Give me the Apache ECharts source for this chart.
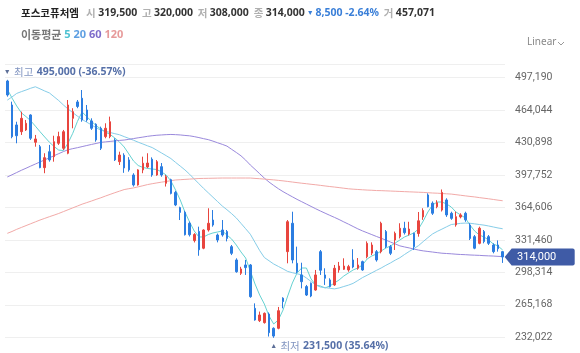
<!DOCTYPE html>
<html>
<head>
<meta charset="utf-8">
<script src="https://cdn.jsdelivr.net/npm/echarts/dist/echarts.min.js"></script>
<style>
html, body { margin: 0; padding: 0; background: #fff; }
#chart { width: 580px; height: 353px; }
</style>
</head>
<body>
<div id="chart"></div>
<script>
// daily prices, oldest first
var opens = [493800,469300,448900,442000,443800,459100,431200,426700,405300,421600,
  416500,430200,425100,420000,455700,472400,476200,464200,453000,449600,
  445500,437000,437000,433600,411400,418000,413200,397800,387600,403000,
  406000,413900,397800,406300,389300,393000,380000,364500,359600,348500,
  330800,340200,323000,341600,351800,336500,341600,340000,324600,311000,
  297400,305900,305900,261600,249000,247000,255800,241200,241200,272000,
  319500,348500,307600,295700,283800,287200,280300,319500,295700,290600,
  285500,300800,301500,300800,311000,302500,309300,314400,318000,319500,
  319500,340000,324600,331400,334800,343400,337500,338200,338000,355000,
  377400,369000,365400,362000,372300,358700,346800,355000,358700,346700,
  334800,328000,340000,334800,326300,326300,319500];
var highs = [495000,472700,452200,462500,454000,459800,438700,428500,420000,428500,
  437900,442000,443800,474400,466000,474400,484600,469300,455700,450600,
  447200,450600,457400,435300,421600,420000,416000,399600,403700,416500,
  420000,415800,413000,410000,397800,394000,381500,365400,361200,350200,
  338400,345000,342300,363800,362000,338000,351800,341600,326300,312700,
  304000,311000,306900,266700,258300,257400,257400,242200,263000,272900,
  351800,360300,324600,308200,285500,288000,300800,321200,302500,292300,
  305900,309000,312700,306000,322000,313000,310300,330000,329000,321200,
  350100,341600,326300,340000,348500,350000,350000,338900,360000,363800,
  379000,370800,372000,383000,374000,360300,360300,358700,360300,348500,
  336500,345000,341600,336500,328000,331000,320000];
var lows = [477800,435300,430200,438700,442800,433600,426700,404700,399600,411400,
  411400,428500,423300,419000,445500,466000,452200,452200,443800,431800,
  423300,435300,435300,412100,408000,400000,401200,386000,386900,399600,
  404700,396000,397000,396000,386000,378000,366000,351800,336000,335000,
  328900,315300,322000,340000,345000,329000,334800,330000,316000,298000,
  295700,295700,272400,249000,247600,246000,232800,231500,240200,261600,
  307600,307600,297400,282000,274200,273000,279600,295700,285500,283000,
  284500,298000,300800,299000,302500,301000,300000,312700,316000,309300,
  317800,323000,316000,321200,333000,337000,336000,321200,334800,352000,
  364800,357000,363800,360500,355000,352000,345000,353500,350000,331400,
  322000,327000,328000,326300,317800,319500,308000];
var closes = [479500,436900,437900,455700,450600,435300,434600,405300,415500,413200,
  431800,437000,442000,469300,462500,467800,454000,454000,445500,433600,
  425100,445500,452200,413200,418200,405000,403000,387600,403000,409800,
  410000,397800,411400,397800,396100,379000,367200,359600,336800,336800,
  337000,321400,341600,348500,346700,331400,336500,333000,317800,299000,
  301800,303200,273500,249700,254800,256500,236700,233300,259200,268500,
  350100,311000,299000,288800,275200,274200,295700,300500,292300,283800,
  302500,304800,304800,304200,303800,305900,300800,328000,326300,311000,
  348500,324600,317800,338200,343400,338900,342600,324600,351000,361500,
  365400,358700,369500,380000,357000,353500,355200,357000,352000,333000,
  323000,343400,329800,328000,319500,322500,314000];

// moving averages
var ma5 = [485400,476400,468300,461300,457400,453200,447700,442000,436600,431300,
  426900,423200,422800,430500,440400,452500,462200,457400,452700,448200,
  444800,441700,439200,435600,431500,426400,419300,412100,407500,405500,
  404500,403900,403400,400900,397800,391700,382500,372300,360000,349800,
  340600,334500,334500,337000,338600,339600,340600,336500,332400,326300,
  319200,313000,299700,286500,275200,266000,253800,245600,249700,259900,
  274200,287500,297700,302800,302800,291600,285400,284400,282400,284400,
  287500,290600,294600,297700,300800,302800,305900,312000,315100,317100,
  320200,323200,325300,328300,331400,334500,336500,338600,342700,350800,
  360000,367200,370200,370200,368200,365100,360000,357000,353900,346700,
  340600,336500,334500,331400,327300,325300,321200];
var ma20 = [474300,477500,481100,482900,484600,486400,487900,485800,483600,481600,
  477700,473800,469300,465200,461500,457900,454500,451700,449000,446100,
  443600,442500,441200,440000,438900,437000,435200,433300,431300,429500,
  427600,425800,423100,420300,417500,414600,410700,406900,403000,398600,
  393700,388900,384100,379600,375100,370600,366100,362300,358300,353900,
  348400,342900,337300,329000,320600,313500,310200,306900,304400,301900,
  299300,298000,296900,295800,292600,289000,285500,283400,282800,282100,
  281500,282400,283900,285300,287100,290000,293000,295400,297900,300400,
  302800,305500,308000,310800,313300,316600,319700,322600,325700,329800,
  333800,337600,340200,342500,344900,347200,347800,348400,348700,348500,
  347900,347200,346600,345700,344700,343700,342900];
var ma60 = [395800,398000,400300,402600,404700,406900,409000,411100,413300,415300,
  417500,419600,421700,423600,424700,425700,426800,427900,429000,430000,
  431100,431600,432100,432600,433100,433500,434200,435000,435800,436500,
  437300,437900,438400,438700,439000,439200,439000,438700,438200,437800,
  437000,436000,434900,433900,432400,430700,429100,427300,424000,420800,
  417400,413000,408000,403600,399100,394600,390600,387100,383800,380800,
  378100,375500,372900,370500,368100,365700,363300,361000,358800,356600,
  354500,352300,349900,347600,345200,342800,340700,338800,336900,335000,
  333200,331300,329300,327400,325400,324300,323300,322200,321100,320300,
  319700,319100,318500,317900,317600,317300,316900,316600,316400,316100,
  315900,315700,315400,315200,315000,314700,314500];
var ma120 = [338200,340100,342300,344200,346100,348000,349900,351800,353500,355200,
  356800,358500,360400,362300,364200,366100,368000,369600,371200,372900,
  374500,376300,378000,379700,381300,382900,383800,384600,385700,386800,
  388000,388900,389700,390500,391200,392000,392700,393000,393300,393600,
  393900,394200,394300,394400,394500,394600,394700,394700,394700,394700,
  394700,394700,394700,394300,394000,393600,393200,392800,392300,391800,
  391200,390600,390000,389400,388900,388300,387800,387200,386600,386000,
  385500,384900,384300,383700,383300,383000,382700,382400,382200,381900,
  381800,381600,381400,381200,381000,380800,380600,380400,380200,380000,
  379700,379400,379200,378900,378600,378300,377700,377100,376500,375900,
  375400,374700,374100,373500,372800,372100,371500];

var stockName = '포스코퓨처엠';
var volume = 457071;
var maNames = ['5', '20', '60', '120'];
var maColors = ['#66d2d2', '#86cde8', '#9a89dc', '#f2aaa8'];
var maLegendColors = ['#4fc2d2', '#5e9fe2', '#7e6ccb', '#e79a9a'];
var upColor = '#e8453e';
var downColor = '#2b7de1';

function fmt(v) {
    return String(v).replace(/\B(?=(\d{3})+(?!\d))/g, ',');
}

var n = closes.length;
var last = n - 1;
var change = closes[last] - closes[last - 1];
var pct = change / closes[last - 1] * 100;

var days = [];
var candles = [];
var hiIdx = 0, loIdx = 0;
for (var i = 0; i < n; i++) {
    days.push(i + 1);
    candles.push([opens[i], closes[i], lows[i], highs[i]]);
    if (highs[i] > highs[hiIdx]) hiIdx = i;
    if (lows[i] < lows[loIdx]) loIdx = i;
}
var hiPct = ((closes[last] - highs[hiIdx]) / highs[hiIdx] * 100).toFixed(2);
var loPct = ((closes[last] - lows[loIdx]) / lows[loIdx] * 100).toFixed(2);

var interval = 33146;
var markRich = {
    t: { fontSize: 7, color: '#5d6f98' },
    k: { fontSize: 10.5, color: '#8094c0', fontFamily: 'Noto Sans CJK KR' },
    v: { fontSize: 10.5, color: '#5670a8', fontWeight: 'bold', fontFamily: 'Noto Sans' }
};

var line1 = '{n|' + stockName + '}{g|   시 }{v|' + fmt(opens[last]) + '}{g|  고 }{v|' + fmt(highs[last]) +
    '}{g|  저 }{v|' + fmt(lows[last]) + '}{g|  종 }{v|' + fmt(closes[last]) + '}{t| ▼ }{b|' +
    fmt(Math.abs(change)) + ' ' + pct.toFixed(2) + '%}{g|  거 }{v|' + fmt(volume) + '}';
var line2 = '{g|이동평균}';
for (var m = 0; m < maNames.length; m++) {
    line2 += '{m' + m + '| ' + maNames[m] + '}';
}
var legendRich = { g: { fontSize: 11, color: '#777', fontFamily: 'Noto Sans CJK KR' } };
for (var m = 0; m < maNames.length; m++) {
    legendRich['m' + m] = { fontSize: 11, color: maLegendColors[m], fontFamily: 'Noto Sans' };
}

var series = [];
var maData = [ma5, ma20, ma60, ma120];
for (var m = 0; m < maData.length; m++) {
    series.push({
        name: 'MA' + maNames[m],
        type: 'line',
        data: maData[m],
        symbol: 'none',
        silent: true,
        z: 1,
        lineStyle: { width: 1, color: maColors[m] },
        itemStyle: { color: maColors[m] }
    });
}
series.push({
    type: 'candlestick',
    data: candles,
    barWidth: 2,
    z: 3,
    itemStyle: {
        color: upColor,
        color0: downColor,
        borderColor: upColor,
        borderColor0: downColor,
        borderWidth: 1
    },
    markPoint: {
        symbol: 'circle',
        symbolSize: 1,
        animation: false,
        itemStyle: { color: 'rgba(0,0,0,0)' },
        data: [
            {
                coord: [hiIdx, highs[hiIdx]],
                label: {
                    show: true,
                    position: [-3, -13],
                    formatter: '{t|▼} {k|최고} {v|' + fmt(highs[hiIdx]) + ' (' + hiPct + '%)}',
                    rich: markRich
                }
            },
            {
                coord: [loIdx, lows[loIdx]],
                label: {
                    show: true,
                    position: [-3, 3],
                    formatter: '{t|▲} {k|최저} {v|' + fmt(lows[loIdx]) + ' (' + loPct + '%)}',
                    rich: markRich
                }
            },
            {
                coord: [last, closes[last]],
                symbol: 'path://M0,8.5 L7,0 L68,0 Q70,0 70,2 L70,15 Q70,17 68,17 L7,17 Z',
                symbolSize: [70, 17],
                symbolOffset: [37, 0],
                itemStyle: { color: '#3f5ba6' },
                label: {
                    show: true,
                    position: 'inside',
                    offset: [-3, 0],
                    formatter: fmt(closes[last]),
                    color: '#fff',
                    fontSize: 11,
                    fontFamily: 'Roboto'
                }
            }
        ]
    }
});

var option = {
    animation: false,
    backgroundColor: '#fff',
    title: [
        {
            left: 16, top: 3,
            text: line1,
            textStyle: {
                rich: {
                    n: { fontSize: 10.5, fontWeight: 'bold', color: '#222', fontFamily: 'Noto Sans CJK KR' },
                    g: { fontSize: 10.5, color: '#b0b0b0', fontFamily: 'Noto Sans CJK KR' },
                    v: { fontSize: 10.5, fontWeight: 'bold', color: '#333', fontFamily: 'Noto Sans' },
                    t: { fontSize: 7, color: '#3a7fd8' },
                    b: { fontSize: 10.5, fontWeight: 'bold', color: '#3a7fd8', fontFamily: 'Noto Sans' }
                }
            }
        },
        {
            left: 16, top: 24,
            text: line2,
            textStyle: { rich: legendRich }
        }
    ],
    graphic: [
        { type: 'text', left: 527, top: 37, style: { text: 'Linear', fill: '#888', font: '10px "Noto Sans"' } },
        { type: 'polyline', shape: { points: [[558, 42], [561, 45], [564, 42]] }, style: { stroke: '#999', lineWidth: 1, fill: null } }
    ],
    grid: { left: 5, right: 75, top: 64.7, bottom: -16.75, outerBoundsMode: 'none', containLabel: false },
    xAxis: {
        type: 'category',
        data: days,
        show: false
    },
    yAxis: {
        type: 'value',
        position: 'right',
        min: interval * 6,
        max: 510448,
        interval: interval,
        axisLine: { show: false },
        axisTick: { show: false },
        splitLine: { lineStyle: { color: '#efefef' } },
        axisLabel: {
            color: '#666',
            fontSize: 10.5,
            fontFamily: 'Roboto',
            margin: 10,
            showMaxLabel: false,
            showMinLabel: false,
            formatter: function (v) { return fmt(v); }
        }
    },
    series: series
};

var chart = echarts.init(document.getElementById('chart'));
chart.setOption(option);
</script>
</body>
</html>
